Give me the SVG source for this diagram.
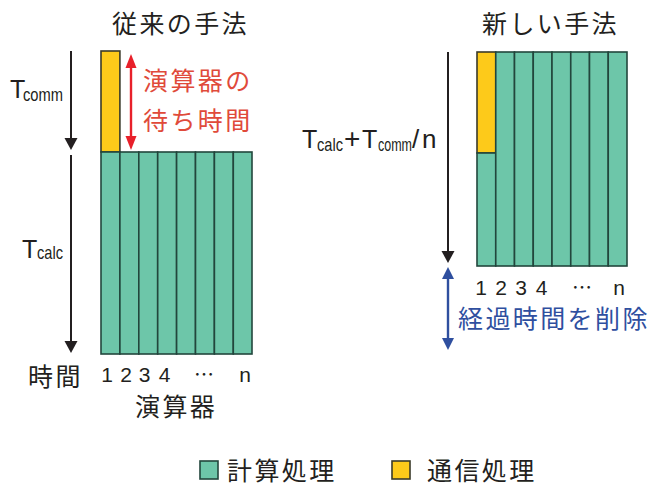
<svg xmlns="http://www.w3.org/2000/svg" width="655" height="485" viewBox="0 0 655 485">
<style>
.jp{font-family:"Noto Sans CJK JP","Noto Sans",sans-serif;font-size:25px;letter-spacing:2.4px;fill:#231f20}
.lat{font-family:"Liberation Sans",Arial,sans-serif;fill:#231f20}
.num{font-family:"Liberation Sans",Arial,sans-serif;font-size:21px;fill:#231f20;text-anchor:middle}
.calc{fill:#6dc6a9;stroke:#22463c;stroke-width:1.6}
.comm{fill:#fdca1a;stroke:#3a3a2a;stroke-width:1.6}
</style>
<rect width="655" height="485" fill="#fff"/>

<g id="title-old"><text class="jp" x="112" y="33">従来の手法</text></g>
<g id="title-new"><text class="jp" x="482" y="33">新しい手法</text></g>

<g id="old-bars">
<rect class="comm" x="101" y="51" width="18.9" height="101"/>
<rect class="calc" x="101" y="152" width="18.9" height="202"/>
<rect class="calc" x="119.9" y="152" width="18.9" height="202"/>
<rect class="calc" x="138.8" y="152" width="18.9" height="202"/>
<rect class="calc" x="157.7" y="152" width="18.9" height="202"/>
<rect class="calc" x="176.6" y="152" width="18.9" height="202"/>
<rect class="calc" x="195.5" y="152" width="18.9" height="202"/>
<rect class="calc" x="214.4" y="152" width="18.9" height="202"/>
<rect class="calc" x="233.3" y="152" width="18.7" height="202"/>
</g>

<g id="new-bars">
<rect class="comm" x="477" y="52" width="18.75" height="101"/>
<rect class="calc" x="477" y="153" width="18.75" height="113"/>
<rect class="calc" x="495.75" y="52" width="18.75" height="214"/>
<rect class="calc" x="514.5" y="52" width="18.75" height="214"/>
<rect class="calc" x="533.25" y="52" width="18.75" height="214"/>
<rect class="calc" x="552" y="52" width="18.75" height="214"/>
<rect class="calc" x="570.75" y="52" width="18.75" height="214"/>
<rect class="calc" x="589.5" y="52" width="18.75" height="214"/>
<rect class="calc" x="608.25" y="52" width="18.75" height="214"/>
</g>

<g id="connectors">
<line x1="71" y1="51" x2="71" y2="139" stroke="#231f20" stroke-width="2"/>
<polygon points="64.5,138 77.5,138 71,150" fill="#231f20"/>
<line x1="71" y1="155" x2="71" y2="342" stroke="#231f20" stroke-width="2"/>
<polygon points="64.5,341 77.5,341 71,353" fill="#231f20"/>
<line x1="131" y1="66" x2="131" y2="139" stroke="#e8202a" stroke-width="2.4"/>
<polygon points="131,54 125.5,68 136.5,68" fill="#e8202a"/>
<polygon points="131,150 125.5,136 136.5,136" fill="#e8202a"/>
<line x1="448" y1="52" x2="448" y2="252" stroke="#231f20" stroke-width="2"/>
<polygon points="441.5,251 454.5,251 448,263" fill="#231f20"/>
<line x1="448" y1="278" x2="448" y2="339" stroke="#2f4f9f" stroke-width="2.4"/>
<polygon points="448,267 442,279 454,279" fill="#2f4f9f"/>
<polygon points="448,350 442,338 454,338" fill="#2f4f9f"/>
</g>

<g id="labels-old">
<text class="lat" x="10" y="98" font-size="25">T<tspan x="23" y="101" font-size="19" textLength="40" lengthAdjust="spacingAndGlyphs">comm</tspan></text>
<text class="lat" x="22" y="258" font-size="25">T<tspan x="37" y="258.5" font-size="19" textLength="26" lengthAdjust="spacingAndGlyphs">calc</tspan></text>
<text class="jp" x="143" y="90" style="fill:#e04a3a">演算器の</text>
<text class="jp" x="143" y="130" style="fill:#e04a3a">待ち時間</text>
<text class="jp" x="28" y="386">時間</text>
<text class="num" x="107" y="382">1</text>
<text class="num" x="126" y="382">2</text>
<text class="num" x="144.5" y="382">3</text>
<text class="num" x="164.5" y="382">4</text>
<text class="num" x="204" y="382" style="font-family:'Noto Sans CJK JP',sans-serif;font-size:20px">…</text>
<text class="num" x="245" y="382">n</text>
<text class="jp" x="135" y="416">演算器</text>
</g>

<g id="labels-new">
<text class="lat" x="302" y="148" font-size="25">T<tspan x="317" y="151" font-size="19" textLength="26" lengthAdjust="spacingAndGlyphs">calc</tspan><tspan x="344" y="148" font-size="28">+</tspan><tspan x="362" y="148">T</tspan><tspan x="378" y="151" font-size="19" textLength="34" lengthAdjust="spacingAndGlyphs">comm</tspan><tspan x="412" y="148" font-size="26">/</tspan><tspan x="422" y="148" font-size="26">n</tspan></text>
<text class="num" x="481" y="295">1</text>
<text class="num" x="501" y="295">2</text>
<text class="num" x="521" y="295">3</text>
<text class="num" x="541.5" y="295">4</text>
<text class="num" x="582" y="295" style="font-family:'Noto Sans CJK JP',sans-serif;font-size:20px">…</text>
<text class="num" x="619" y="295">n</text>
<text class="jp" x="458" y="328" style="fill:#2f4f9f">経過時間を削除</text>
</g>

<g id="legend">
<rect class="calc" x="200" y="461" width="18" height="18"/>
<text class="jp" x="227" y="480">計算処理</text>
<rect class="comm" x="392" y="461" width="18" height="18"/>
<text class="jp" x="427" y="480">通信処理</text>
</g>
</svg>
